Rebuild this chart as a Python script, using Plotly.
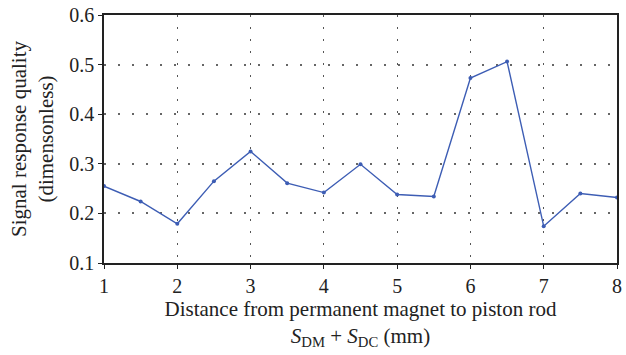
import plotly.graph_objects as go

x_vals = [1, 1.5, 2, 2.5, 3, 3.5, 4, 4.5, 5, 5.5, 6, 6.5, 7, 7.5, 8]
y_vals = [0.255, 0.224, 0.179, 0.265, 0.325, 0.261, 0.242, 0.299, 0.238, 0.234, 0.473, 0.506, 0.174, 0.240, 0.232]
x_ticks = [1, 2, 3, 4, 5, 6, 7, 8]
y_ticks = [0.1, 0.2, 0.3, 0.4, 0.5, 0.6]

FONT = "Liberation Serif"
fig = go.Figure()
fig.add_trace(go.Scatter(
    x=x_vals, y=y_vals, mode="lines+markers",
    line=dict(color="#3d5db4", width=1.4),
    marker=dict(size=4, color="#3d5db4"),
    showlegend=False,
))

axis_common = dict(
    showline=True, linecolor="#222", linewidth=1.5, mirror=True,
    ticks="outside", ticklen=4, tickcolor="#222",
    showgrid=True,
    zeroline=False,
    tickfont=dict(family=FONT, size=20, color="#222"),
)

fig.update_layout(
    width=626, height=355,
    margin=dict(l=104, r=4, t=11, b=92),
    paper_bgcolor="white", plot_bgcolor="white",
    font=dict(family=FONT, color="#222"),
    xaxis=dict(range=[1, 8], tickvals=x_ticks, gridcolor="#555", gridwidth=1.2, griddash="1.5px,10.5px", **axis_common,
               title=dict(text="Distance from permanent magnet to piston rod<br><i>S</i><sub>DM</sub> + <i>S</i><sub>DC</sub> (mm)",
                          font=dict(family=FONT, size=21), standoff=4)),
    yaxis=dict(range=[0.1, 0.6], tickvals=y_ticks, tickformat=".1f", gridcolor="#666", gridwidth=2, griddash="2px,12px", **axis_common,
               title=dict(text="Signal response quality<br>(dimensonless)",
                          font=dict(family=FONT, size=21), standoff=10)),
)

fig.write_html("out.html")
